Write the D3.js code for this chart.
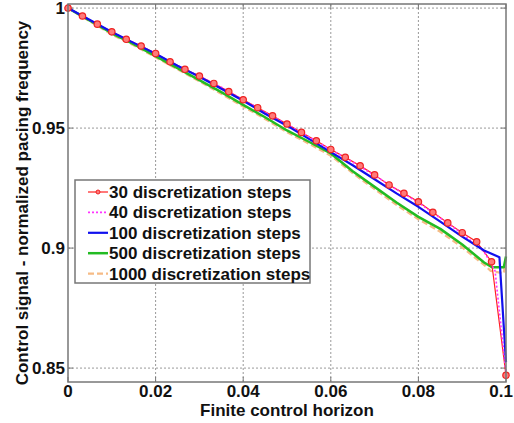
<!DOCTYPE html>
<html>
<head>
<meta charset="utf-8">
<script src="https://cdn.jsdelivr.net/npm/d3@7"></script>
<style>
  body { margin: 0; background: #fff; }
  text { font-family: "Liberation Sans", Arial, sans-serif; font-weight: bold; fill: #111; }
</style>
</head>
<body>
<div id="chart"></div>
<script>
// tick values and labels
const xTicks = [0, 0.02, 0.04, 0.06, 0.08, 0.1]
const xTickLabels = ['0', '0.02', '0.04', '0.06', '0.08', '0.1']
const yTicks = [0.85, 0.9, 0.95, 1]
const yTickLabels = ['0.85', '0.9', '0.95', '1']

const steps30X = [0, 0.0033, 0.0067, 0.01, 0.0133, 0.0167, 0.02, 0.0233, 0.0267, 0.03, 0.0333,
  0.0367, 0.04, 0.0433, 0.0467, 0.05, 0.0533, 0.0567, 0.06, 0.0633, 0.0667, 0.07, 0.0733,
  0.0767, 0.08, 0.0833, 0.0867, 0.09, 0.0933, 0.0967, 0.1]
const steps30Y = [1.0, 0.9967, 0.9933, 0.9901, 0.987, 0.9842, 0.9811, 0.9776, 0.9745, 0.9717, 0.9686,
  0.9652, 0.9618, 0.9585, 0.9551, 0.9517, 0.9482, 0.9447, 0.9411, 0.9378, 0.9343, 0.9305, 0.9263,
  0.9228, 0.9193, 0.9149, 0.9105, 0.9064, 0.9026, 0.8943, 0.847]

// 40 steps
const steps40X = [0, 0.005, 0.01, 0.015, 0.02, 0.025, 0.03, 0.035, 0.04, 0.045, 0.05, 0.055,
  0.06, 0.065, 0.07, 0.075, 0.08, 0.085, 0.09, 0.095, 0.0975, 0.1]
const steps40Y = [1.0, 0.995, 0.990, 0.9856, 0.981, 0.976, 0.9716, 0.967, 0.9618, 0.9566, 0.9515,
  0.9464, 0.941, 0.9358, 0.9303, 0.9244, 0.919, 0.9125, 0.906, 0.8985, 0.8905, 0.848]

// 100 steps
const steps100X = [0, 0.005, 0.01, 0.015, 0.02, 0.025, 0.03, 0.035, 0.04, 0.045, 0.05, 0.055,
  0.06, 0.065, 0.07, 0.075, 0.08, 0.085, 0.09, 0.095, 0.0985, 0.1]
const steps100Y = [1.0, 0.995, 0.990, 0.9855, 0.981, 0.976, 0.9714, 0.9664, 0.9614, 0.956, 0.951,
  0.9455, 0.9400, 0.9345, 0.9287, 0.9228, 0.9172, 0.911, 0.9048, 0.899, 0.8962, 0.8525]

// 500 steps
const steps500X = [0, 0.005, 0.01, 0.015, 0.02, 0.025, 0.03, 0.035, 0.04, 0.045, 0.05, 0.055,
  0.06, 0.065, 0.07, 0.075, 0.08, 0.085, 0.09, 0.095, 0.0968, 0.0995, 0.1]
const steps500Y = [1.0, 0.9948, 0.9895, 0.985, 0.980, 0.975, 0.970, 0.965, 0.9597, 0.9545, 0.949,
  0.9443, 0.9394, 0.932, 0.9255, 0.919, 0.913, 0.908, 0.9015, 0.894, 0.892, 0.892, 0.8965]

// 1000 steps
const steps1000X = [0, 0.005, 0.01, 0.015, 0.02, 0.025, 0.03, 0.035, 0.04, 0.045, 0.05, 0.055,
  0.06, 0.065, 0.07, 0.075, 0.08, 0.085, 0.09, 0.095, 0.0965, 0.0995, 0.1]
const steps1000Y = [1.0, 0.9945, 0.989, 0.9845, 0.9795, 0.9745, 0.9695, 0.9643, 0.959, 0.9538, 0.9483,
  0.9435, 0.9385, 0.9312, 0.9246, 0.918, 0.912, 0.9068, 0.9003, 0.893, 0.8905, 0.8895, 0.8962]

const seriesNames = ['30 discretization steps', '40 discretization steps', '100 discretization steps',
  '500 discretization steps', '1000 discretization steps']

const width = 514
const height = 423
const plot = { left: 68, right: 506, top: 4, bottom: 382 }

const zip = (xs, ys) => xs.map((x, i) => ({ x, y: ys[i] }))

const series = [
  { name: seriesNames[4], data: zip(steps1000X, steps1000Y), color: '#f6bb85', width: 2.2, dash: '6,3' },
  { name: seriesNames[3], data: zip(steps500X, steps500Y), color: '#22bb22', width: 2.5, dash: null },
  { name: seriesNames[0], data: zip(steps30X, steps30Y), color: '#ff2020', width: 1.2, dash: null, marker: true },
  { name: seriesNames[1], data: zip(steps40X, steps40Y), color: '#ff33ff', width: 1.6, dash: '2,2' },
  { name: seriesNames[2], data: zip(steps100X, steps100Y), color: '#1010ee', width: 2.2, dash: null }
]

const x = d3.scaleLinear().domain([0, 0.1]).range([plot.left, plot.right])
const y = d3.scaleLinear().domain([0.8442, 1.0017]).range([plot.bottom, plot.top])

const svg = d3.select('#chart').append('svg')
  .attr('width', width)
  .attr('height', height)

svg.append('rect').attr('width', width).attr('height', height).attr('fill', '#fff')

// grid
const grid = svg.append('g').attr('stroke', '#999').attr('stroke-width', 1).attr('stroke-dasharray', '2,2')
grid.selectAll('.gx').data(xTicks.slice(1, -1)).enter().append('line')
  .attr('x1', d => x(d)).attr('x2', d => x(d))
  .attr('y1', plot.top).attr('y2', plot.bottom)
grid.selectAll('.gy').data(yTicks).enter().append('line')
  .attr('x1', plot.left).attr('x2', plot.right)
  .attr('y1', d => y(d)).attr('y2', d => y(d))

// ticks inside the box
const ticks = svg.append('g').attr('stroke', '#777').attr('stroke-width', 1)
xTicks.forEach(t => {
  ticks.append('line').attr('x1', x(t)).attr('x2', x(t)).attr('y1', plot.bottom).attr('y2', plot.bottom - 5)
  ticks.append('line').attr('x1', x(t)).attr('x2', x(t)).attr('y1', plot.top).attr('y2', plot.top + 5)
})
yTicks.forEach(t => {
  ticks.append('line').attr('x1', plot.left).attr('x2', plot.left + 5).attr('y1', y(t)).attr('y2', y(t))
  ticks.append('line').attr('x1', plot.right).attr('x2', plot.right - 5).attr('y1', y(t)).attr('y2', y(t))
})

// lines
const line = d3.line().x(d => x(d.x)).y(d => y(d.y))
series.forEach(s => {
  svg.append('path')
    .datum(s.data)
    .attr('fill', 'none')
    .attr('stroke', s.color)
    .attr('stroke-width', s.width)
    .attr('stroke-dasharray', s.dash)
    .attr('stroke-linejoin', 'round')
    .attr('d', line)
})

// markers for 30 steps
const s30 = series.find(s => s.marker)
svg.append('g').selectAll('circle')
  .data(s30.data).enter().append('circle')
  .attr('cx', d => x(d.x))
  .attr('cy', d => y(d.y))
  .attr('r', 3.2)
  .attr('fill', '#ff7a7a')
  .attr('stroke', '#ee2222')
  .attr('stroke-width', 1.2)

// box
svg.append('rect')
  .attr('x', plot.left).attr('y', plot.top)
  .attr('width', plot.right - plot.left).attr('height', plot.bottom - plot.top)
  .attr('fill', 'none').attr('stroke', '#777').attr('stroke-width', 1.5)

// tick labels (last one pulled in so it stays on the page)
svg.append('g').selectAll('text')
  .data(xTicks).enter().append('text')
  .attr('x', (d, i) => i === xTicks.length - 1 ? width - 1 : x(d)).attr('y', 397)
  .attr('text-anchor', (d, i) => i === xTicks.length - 1 ? 'end' : 'middle')
  .attr('font-size', 17)
  .text((d, i) => xTickLabels[i])
svg.append('g').selectAll('text')
  .data(yTicks).enter().append('text')
  .attr('x', plot.left - 3).attr('y', d => y(d) + 6)
  .attr('text-anchor', 'end')
  .attr('font-size', 17)
  .text((d, i) => yTickLabels[i])

// axis titles
svg.append('text')
  .attr('x', (plot.left + plot.right) / 2).attr('y', 416)
  .attr('text-anchor', 'middle').attr('font-size', 17)
  .text('Finite control horizon')
svg.append('text')
  .attr('transform', `translate(28,${(plot.top + plot.bottom) / 2 + 10}) rotate(-90)`)
  .attr('text-anchor', 'middle').attr('font-size', 17)
  .text('Control signal - normalized pacing frequency')

// legend
const legendOrder = [2, 3, 4, 1, 0].map(i => series[i])
const lg = svg.append('g').attr('transform', 'translate(75,180)')
lg.append('rect').attr('width', 235).attr('height', 103)
  .attr('fill', '#fff').attr('stroke', '#777').attr('stroke-width', 1.5)
legendOrder.forEach((s, i) => {
  const cy = 12 + i * 20.4
  lg.append('line').attr('x1', 13).attr('x2', 33).attr('y1', cy).attr('y2', cy)
    .attr('stroke', s.color).attr('stroke-width', s.width).attr('stroke-dasharray', s.dash)
  if (s.marker) {
    lg.append('circle').attr('cx', 23).attr('cy', cy).attr('r', 2)
      .attr('fill', '#ff7a7a').attr('stroke', '#ee2222')
  }
  lg.append('text').attr('x', 34).attr('y', cy + 6).attr('font-size', 17).text(s.name)
})
</script>
</body>
</html>
